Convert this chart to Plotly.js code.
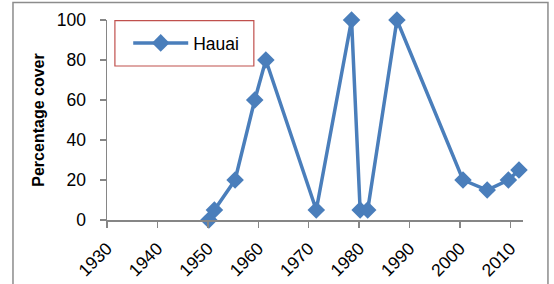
<!DOCTYPE html>
<html>
<head>
<meta charset="utf-8">
<script src="https://cdn.plot.ly/plotly-3.0.1.min.js"></script>
<style>
html,body{margin:0;padding:0;background:#fff;}
#chart{width:554px;height:284px;}
</style>
</head>
<body>
<div id="chart"></div>
<script>
var seriesName = "Hauai";
var years = [1950.2, 1951.3, 1955.4, 1959.3, 1961.5, 1971.5, 1978.5, 1980.2, 1981.7, 1987.5, 2000.6, 2005.4, 2009.6, 2011.7];
var cover = [0, 5, 20, 60, 80, 5, 100, 5, 5, 100, 20, 15, 20, 25];
var xTicks = [1930, 1940, 1950, 1960, 1970, 1980, 1990, 2000, 2010];
var yTicks = [0, 20, 40, 60, 80, 100];

var blue = "#4A7EBB";
var axisGray = "#868686";
var fontFam = "Liberation Sans, Arial, sans-serif";

var trace = {
  x: years, y: cover, name: seriesName, type: "scatter", mode: "lines+markers",
  line: {color: blue, width: 3.5},
  marker: {symbol: "diamond", size: 13.5, color: blue},
  cliponaxis: false,
  showlegend: true
};

var layout = {
  width: 554, height: 284,
  margin: {l: 107, r: 31, t: 20, b: 64},
  paper_bgcolor: "#fff", plot_bgcolor: "#fff",
  font: {family: fontFam, size: 17.5, color: "#000"},
  showlegend: true,
  legend: {x: 0.051, y: 0.975, xanchor: "left", yanchor: "top", bgcolor: "rgba(0,0,0,0)",
           borderwidth: 0, itemwidth: 55, font: {family: fontFam, size: 17.5, color: "#000"}},
  xaxis: {range: [1930, 2012.5], tickvals: xTicks, ticktext: xTicks.map(String), tickangle: -45,
          showgrid: false, zeroline: false, showline: true, linecolor: axisGray, linewidth: 1.5,
          ticks: "outside", ticklen: 6, tickcolor: axisGray, tickwidth: 1.5, ticklabelstandoff: 4,
          tickfont: {family: fontFam, size: 17.5, color: "#000"}},
  yaxis: {range: [0, 100], tickvals: yTicks, showgrid: false, zeroline: false, showline: true,
          linecolor: axisGray, linewidth: 1.5, ticks: "outside", ticklen: 6, tickcolor: axisGray, tickwidth: 1.5,
          ticklabelstandoff: 10,
          tickfont: {family: fontFam, size: 17.5, color: "#000"},
          title: {text: "<b>Percentage cover</b>", standoff: 8, font: {family: fontFam, size: 16, color: "#000"}}},
  shapes: [
    {type: "rect", xref: "paper", yref: "paper", x0: -0.226, x1: 1.06, y0: -0.5, y1: 1.087,
     line: {color: "#8C8C8C", width: 1.5}, fillcolor: "rgba(0,0,0,0)"},
    {type: "rect", xref: "paper", yref: "paper", x0: 0.019, x1: 0.353, y0: 0.77, y1: 0.997,
     line: {color: "#C0504D", width: 1.2}, fillcolor: "rgba(0,0,0,0)"}
  ]
};

Plotly.newPlot("chart", [trace], layout, {displayModeBar: false, staticPlot: true});
</script>
</body>
</html>
